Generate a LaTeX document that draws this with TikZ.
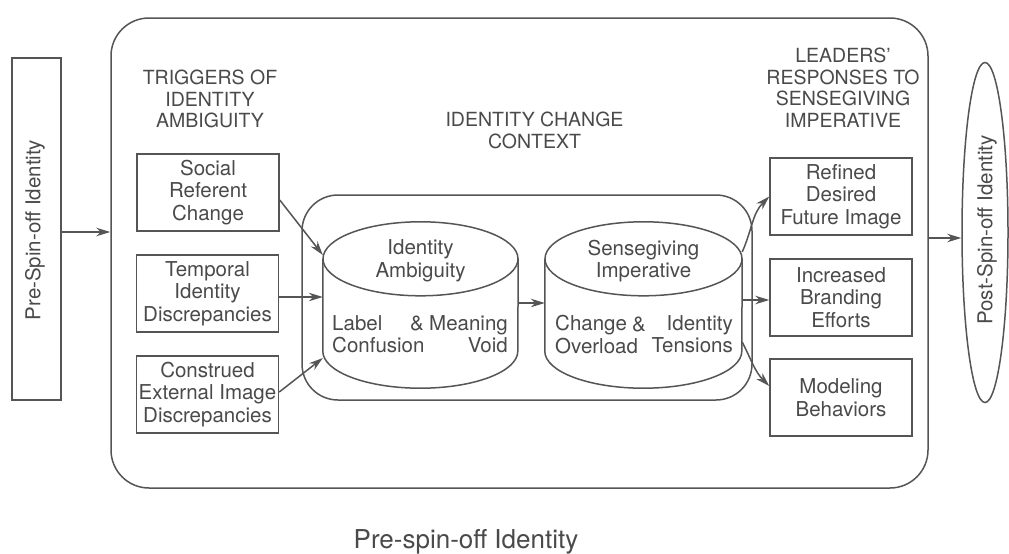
\documentclass[tikz,border=0pt]{standalone}
\usepackage{fontspec}
\setmainfont{TeX Gyre Heros}
\usetikzlibrary{arrows.meta,shapes.geometric}
\definecolor{ink}{HTML}{555555}
\definecolor{txt}{HTML}{4A4A4A}
\begin{document}
\begin{tikzpicture}[x=1pt,y=-1pt,
  ln/.style={draw=ink,line width=1.5pt},
  arr/.style={draw=ink,line width=1.5pt,-{Stealth[length=14pt,width=8.5pt]}},
  body/.style={font=\fontsize{20.5}{22.5}\selectfont,text=txt,align=center,inner sep=0pt},
  head/.style={font=\fontsize{19.5}{21.5}\selectfont,text=txt,align=center,inner sep=0pt,anchor=north},
  box/.style={body,ln,minimum width=142pt,minimum height=77pt},
  hold/.style={inner sep=0pt,minimum height=166pt},
]
\fill[white] (0,0) rectangle (1009,554);
\useasboundingbox (0,0) rectangle (1009,554);

% outer frame and the two identity states
\node[ln,rounded corners=38pt,minimum width=817pt,minimum height=470pt,inner sep=0pt] (frame) at (519.5,253) {};
\node[ln,minimum width=49pt,minimum height=342pt,inner sep=0pt] (pre) at (36.5,229) {};
\node[body,font=\fontsize{20.5}{24}\selectfont,rotate=90] (prelabel) at (35,230) {Pre-Spin-off Identity};
\node[ln,ellipse,minimum width=46pt,minimum height=340pt,inner sep=0pt] (post) at (985,232.5) {};
\node[body,font=\fontsize{20.5}{24}\selectfont,rotate=90] (postlabel) at (987,230) {Post-Spin-off Identity};

% column headings
\node[head] (trighead) at (210,70) {TRIGGERS OF\\IDENTITY\\AMBIGUITY};
\node[head] (ctxhead) at (534.5,112) {IDENTITY CHANGE\\CONTEXT};
\node[head] (resphead) at (843,48) {LEADERS’\\RESPONSES TO\\SENSEGIVING\\IMPERATIVE};

% triggers
\node[box] (social) at (208,192.5) {Social\\Referent\\Change};
\node[box] (temporal) at (207.5,293.5) {Temporal\\Identity\\Discrepancies};
\node[box] (construed) at (207.5,394.5) {Construed\\External Image\\Discrepancies};

% responses
\node[box] (refined) at (841,196.5) {Refined\\Desired\\Future Image};
\node[box] (branding) at (841,297.5) {Increased\\Branding\\Efforts};
\node[box] (modeling) at (841,397.5) {Modeling\\Behaviors};

% identity change context
\node[ln,rounded corners=36pt,minimum width=450pt,minimum height=205pt,inner sep=0pt] (context) at (527,297.5) {};
\node[hold,minimum width=195pt] (ambig) at (420.5,305) {};
\node[hold,minimum width=197pt] (sense) at (643.5,305) {};
\foreach \c/\r in {ambig/97.5pt,sense/98.5pt}{
  \draw[ln] ([yshift=-37pt]\c.north) ellipse[x radius=\r,y radius=37pt];
  \draw[ln] ([yshift=-37pt]\c.north west) -- ([yshift=37pt]\c.south west)
    arc[start angle=180,end angle=360,x radius=\r,y radius=37pt]
    -- ([yshift=-37pt]\c.north east);
}
\node[body] (ambigtitle) at (420.5,261) {Identity\\Ambiguity};
\node[body] (sensetitle) at (643.5,261) {Sensegiving\\Imperative};
\node[body,align=left,anchor=north west] (labelconf) at (332,315) {Label\\Confusion};
\node[body,anchor=north] (ampA) at (417,316) {\&};
\node[body,align=right,anchor=north east] (meaningvoid) at (508,315) {Meaning\\Void};
\node[body,align=left,anchor=north west] (changeover) at (555,315) {Change\\Overload};
\node[body,anchor=north] (ampB) at (639,317) {\&};
\node[body,align=right,anchor=north east] (idtension) at (733,315) {Identity\\Tensions};

% connectors
\coordinate (a1) at ([yshift=-3pt]pre.east);
\draw[arr] (a1) -- (a1 -| frame.west);
\coordinate (b1) at ([yshift=15pt]frame.east);
\draw[arr] (b1) -- (b1 -| post.west);

\draw[arr] ([yshift=-7.5pt]social.east) -- ([yshift=50pt]ambig.west);
\coordinate (t1) at ([yshift=-3.5pt]temporal.east);
\draw[arr] (t1) -- (t1 -| ambig.west);
\draw[arr] ([yshift=2.5pt]construed.east) -- ([yshift=-53pt]ambig.west);

\coordinate (m1) at ([yshift=2pt]ambig.east);
\draw[arr] (m1) -- (m1 -| sense.west);

\draw[arr] ([yshift=53pt]sense.east) to[out=66,in=-135] (refined.west);
\coordinate (r2) at ([yshift=5pt]sense.east);
\draw[arr] (r2) -- (r2 -| branding.west);
\draw[arr] ([yshift=-37pt]sense.east) to[out=-63,in=135] ([yshift=11.5pt]modeling.west);

% caption
\node[font=\fontsize{26}{30}\selectfont,text=txt,inner sep=0pt,anchor=base] (caption) at (466,548) {Pre-spin-off Identity};
\end{tikzpicture}
\end{document}
